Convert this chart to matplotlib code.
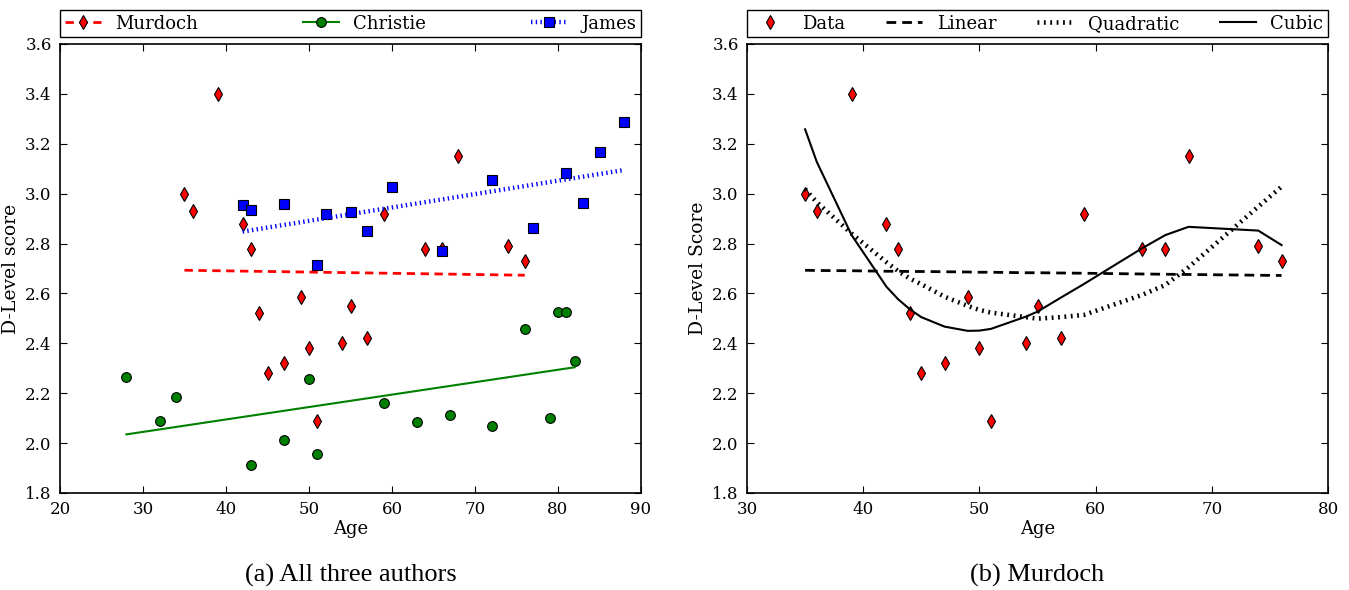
import matplotlib
matplotlib.use('Agg')
import matplotlib.pyplot as plt
from matplotlib.lines import Line2D

plt.rcParams['font.family'] = 'DejaVu Serif'
plt.rcParams['font.size'] = 12
plt.rcParams['lines.scale_dashes'] = False

# ------------------------------------------------------------
# Data
# ------------------------------------------------------------
murdoch_age = [35, 36, 39, 42, 43, 44, 45, 47, 49, 50, 51, 54, 55, 57, 59, 64, 66, 68, 74, 76]
murdoch_score = [3.00, 2.93, 3.40, 2.88, 2.78, 2.52, 2.28, 2.32, 2.585, 2.38, 2.09,
                 2.40, 2.55, 2.42, 2.92, 2.78, 2.78, 3.15, 2.79, 2.73]

christie_age = [28, 32, 34, 43, 47, 50, 51, 59, 63, 67, 72, 76, 79, 80, 81, 82]
christie_score = [2.266, 2.087, 2.185, 1.911, 2.013, 2.256, 1.956, 2.16, 2.086, 2.113,
                  2.07, 2.458, 2.10, 2.526, 2.526, 2.33]

james_age = [42, 43, 47, 51, 52, 55, 57, 60, 66, 72, 77, 81, 83, 85, 88]
james_score = [2.954, 2.934, 2.959, 2.715, 2.919, 2.928, 2.852, 3.026, 2.770, 3.056,
               2.862, 3.083, 2.964, 3.167, 3.286]

# linear fits (end points) for panel (a)
murdoch_fit_age = [35, 76]
murdoch_fit = [2.693, 2.673]
christie_fit_age = [28, 82]
christie_fit = [2.035, 2.304]
james_fit_age = [42, 88]
james_fit = [2.848, 3.095]

# fits for panel (b), evaluated at the Murdoch ages
linear_fit = [2.693, 2.692, 2.691, 2.689, 2.689, 2.688, 2.688, 2.687, 2.686, 2.685, 2.685,
              2.683, 2.683, 2.682, 2.681, 2.678, 2.677, 2.676, 2.673, 2.672]
quad_fit = [3.018, 2.966, 2.840, 2.725, 2.690, 2.660, 2.637, 2.587, 2.550, 2.534, 2.523,
            2.505, 2.499, 2.505, 2.514, 2.594, 2.634, 2.705, 2.948, 3.028]
cubic_fit = [3.258, 3.128, 2.834, 2.627, 2.577, 2.537, 2.505, 2.467, 2.450, 2.451, 2.458,
             2.507, 2.527, 2.583, 2.638, 2.781, 2.834, 2.867, 2.852, 2.794]

yticks = [1.8, 2.0, 2.2, 2.4, 2.6, 2.8, 3.0, 3.2, 3.4, 3.6]

# ------------------------------------------------------------
# Figure
# ------------------------------------------------------------
fig = plt.figure(figsize=(13.49, 5.90), dpi=100)
ax_a = fig.add_axes([60 / 1349, 1 - 493 / 590, 581 / 1349, 449 / 590])
ax_b = fig.add_axes([747 / 1349, 1 - 493 / 590, 581 / 1349, 449 / 590])

MS = 7
mk = dict(markersize=MS, markeredgecolor='black', markeredgewidth=0.8, linestyle='none')
red_dash = (0, (6, 4))
black_dash = (0, (7, 4.3))
blue_dot = (0, (1, 2.4))
black_dot = (0, (1.3, 3.3))

# ---- (a) all three authors ----
ax_a.plot(murdoch_age, murdoch_score, marker='d', color='red', **mk)
ax_a.plot(murdoch_fit_age, murdoch_fit, color='red', linestyle=red_dash, lw=2)
ax_a.plot(christie_age, christie_score, marker='o', color='green', **mk)
ax_a.plot(christie_fit_age, christie_fit, color='green', lw=1.5)
ax_a.plot(james_age, james_score, marker='s', color='blue', **mk)
ax_a.plot(james_fit_age, james_fit, color='blue', linestyle=blue_dot, lw=3.2)

ax_a.set_xlim(20, 90)
ax_a.set_xlabel('Age', fontsize=13)
ax_a.set_ylabel('D-Level score', fontsize=13.5)

handles_a = [
    Line2D([], [], color='red', linestyle=red_dash, lw=2, marker='d', markersize=MS,
           markeredgecolor='black', markeredgewidth=0.8),
    Line2D([], [], color='green', lw=1.5, marker='o', markersize=MS,
           markeredgecolor='black', markeredgewidth=0.8),
    Line2D([], [], color='blue', linestyle=blue_dot, lw=3.2, marker='s', markersize=MS,
           markeredgecolor='black', markeredgewidth=0.8),
]
ax_a.legend(handles_a, ['Murdoch', 'Christie', 'James'], loc='lower left',
            bbox_to_anchor=(0, 1.015, 1, 0.05), mode='expand', ncol=3, borderaxespad=0,
            numpoints=1, fancybox=False, framealpha=1, edgecolor='black', borderpad=0.25,
            fontsize=13)

# ---- (b) Murdoch ----
ax_b.plot(murdoch_age, murdoch_score, marker='d', color='red', **mk)
ax_b.plot(murdoch_age, linear_fit, color='black', linestyle=black_dash, lw=2)
ax_b.plot(murdoch_age, quad_fit, color='black', linestyle=black_dot, lw=3.3)
ax_b.plot(murdoch_age, cubic_fit, color='black', lw=1.5)

ax_b.set_xlim(30, 80)
ax_b.set_xlabel('Age', fontsize=13)
ax_b.set_ylabel('D-Level Score', fontsize=13.5)

handles_b = [
    Line2D([], [], color='red', linestyle='none', marker='d', markersize=MS,
           markeredgecolor='black', markeredgewidth=0.8),
    Line2D([], [], color='black', linestyle=black_dash, lw=2),
    Line2D([], [], color='black', linestyle=black_dot, lw=3.3),
    Line2D([], [], color='black', lw=1.5),
]
ax_b.legend(handles_b, ['Data', 'Linear', 'Quadratic', 'Cubic'], loc='lower left',
            bbox_to_anchor=(0, 1.015, 1, 0.05), mode='expand', ncol=4, borderaxespad=0,
            numpoints=1, fancybox=False, framealpha=1, edgecolor='black', borderpad=0.25,
            fontsize=13)

for ax in (ax_a, ax_b):
    ax.set_ylim(1.8, 3.6)
    ax.set_yticks(yticks)
    ax.tick_params(direction='in', top=True, right=True, length=5, width=0.8,
                   labelsize=12, pad=6)
    ax.xaxis.labelpad = 1
    for s in ax.spines.values():
        s.set_linewidth(1.2)

# captions
fig.text(ax_a.get_position().x0 + ax_a.get_position().width / 2, 0.025,
         '(a) All three authors', ha='center', va='center',
         family='Liberation Serif', fontsize=19)
fig.text(ax_b.get_position().x0 + ax_b.get_position().width / 2, 0.025,
         '(b) Murdoch', ha='center', va='center',
         family='Liberation Serif', fontsize=19)

fig.savefig('out.png', dpi=100)
